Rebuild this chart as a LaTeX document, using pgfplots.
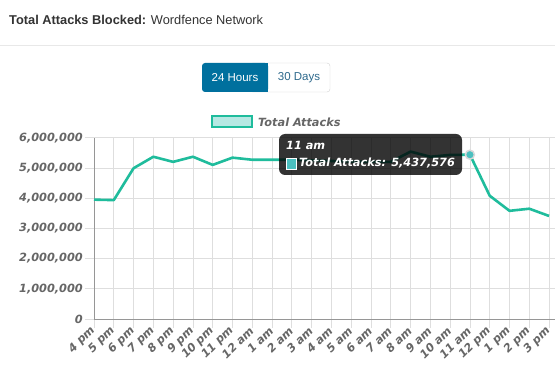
\documentclass[border=0pt]{standalone}
\usepackage{pgfplots}
\pgfplotsset{compat=1.18}
\usepackage{fontspec}
\setmainfont{Liberation Sans}
\newfontfamily\chartfont{DejaVu Sans}[ItalicFont={DejaVu Sans Oblique},BoldFont={DejaVu Sans Bold},BoldItalicFont={DejaVu Sans Bold Oblique}]
\definecolor{linec}{RGB}{31,188,156}
\definecolor{legfill}{RGB}{183,232,227}
\definecolor{lab}{RGB}{102,102,102}
\definecolor{btn}{RGB}{0,112,158}
\definecolor{btntxt}{RGB}{45,105,140}
\definecolor{gridc}{RGB}{222,222,222}
\definecolor{axc}{RGB}{150,150,150}
\definecolor{hdr}{RGB}{51,51,51}
\definecolor{sepc}{RGB}{232,232,232}
\definecolor{hov}{RGB}{75,192,192}
\pgfplotstableread{
x y
0 3950000
1 3935000
2 4990000
3 5370000
4 5200000
5 5370000
6 5100000
7 5340000
8 5270000
9 5270000
10 5270000
11 5250000
12 5230000
13 5210000
14 5200000
15 5200000
16 5540000
17 5370000
18 5430000
19 5437576
20 4080000
21 3580000
22 3650000
23 3410000
}\attacks
\begin{document}
\begin{tikzpicture}
\useasboundingbox (0,0) rectangle (555pt,-374pt);
\fill[white] (0,0) rectangle (555pt,-374pt);
\node[anchor=base west, inner sep=0, text=hdr, font=\fontsize{12.8}{15}\selectfont] at (9pt,-25pt) {\textbf{Total Attacks Blocked:} Wordfence Network};
\draw[sepc, line width=1pt] (0,-46pt) -- (555pt,-46pt);
% buttons
\draw[gray!35, fill=white, rounded corners=3pt] (250pt,-63pt) rectangle (330pt,-92pt);
\fill[btn, rounded corners=3pt] (202pt,-63pt) rectangle (268pt,-92pt);
\fill[btn] (260pt,-63pt) rectangle (268pt,-92pt);
\node[text=white, font=\fontsize{11.5}{14}\selectfont, inner sep=0] at (235pt,-77.5pt) {24 Hours};
\node[text=btntxt, font=\fontsize{11.5}{14}\selectfont, inner sep=0] at (299pt,-77.5pt) {30 Days};
% legend
\draw[linec, line width=2pt, fill=legfill] (212pt,-116pt) rectangle (252pt,-127.5pt);
\node[anchor=base west, inner sep=0, text=lab, font=\chartfont\bfseries\itshape\fontsize{11.3}{13}\selectfont] at (258pt,-126.5pt) {Total Attacks};
\begin{axis}[
  at={(94pt,-319pt)}, anchor=south west,
  scale only axis, width=461pt, height=181.3pt,
  xmin=0, xmax=23.3, ymin=0, ymax=6000000,
  axis lines*=left, axis line style={draw=axc, -},
  grid=major, major grid style={gridc, line width=0.8pt},
  tick align=outside, major tick length=9pt,
  tick style={gridc, line width=0.8pt},
  xtick={0,...,23},
  xticklabels={4 pm,5 pm,6 pm,7 pm,8 pm,9 pm,10 pm,11 pm,12 am,1 am,2 am,3 am,4 am,5 am,6 am,7 am,8 am,9 am,10 am,11 am,12 pm,1 pm,2 pm,3 pm},
  ytick={0,1000000,2000000,3000000,4000000,5000000,6000000},
  scaled y ticks=false,
  /pgf/number format/fixed,
  /pgf/number format/1000 sep={,},
  /pgf/number format/assume math mode=true,
  every tick label/.append style={font=\chartfont\bfseries\itshape\fontsize{11.3}{13}\selectfont, text=lab},
  x tick label style={rotate=45, anchor=east, inner sep=1pt},
  y tick label style={inner sep=2pt},
  clip=false,
]
\addplot[linec, line width=2.6pt, line join=round, no marks] table[x=x,y=y] {\attacks};
\addplot[only marks, mark=*, mark size=4.5pt, mark options={fill=hov, draw=gray!30, line width=1.5pt}] coordinates {(19,5437576)};
\end{axis}
% tooltip
\fill[black, opacity=0.8, rounded corners=6pt] (279pt,-134pt) rectangle (462pt,-175pt);
\node[anchor=base west, inner sep=0, text=white, font=\chartfont\bfseries\itshape\fontsize{11.3}{13}\selectfont] at (286pt,-150pt) {11 am};
\draw[white, fill=hov, line width=1pt] (286.5pt,-158.5pt) rectangle (296.5pt,-169.5pt);
\node[anchor=base west, inner sep=0, text=white, font=\chartfont\bfseries\itshape\fontsize{11.3}{13}\selectfont] at (299pt,-167pt) {Total Attacks: 5,437,576};
\end{tikzpicture}
\end{document}
